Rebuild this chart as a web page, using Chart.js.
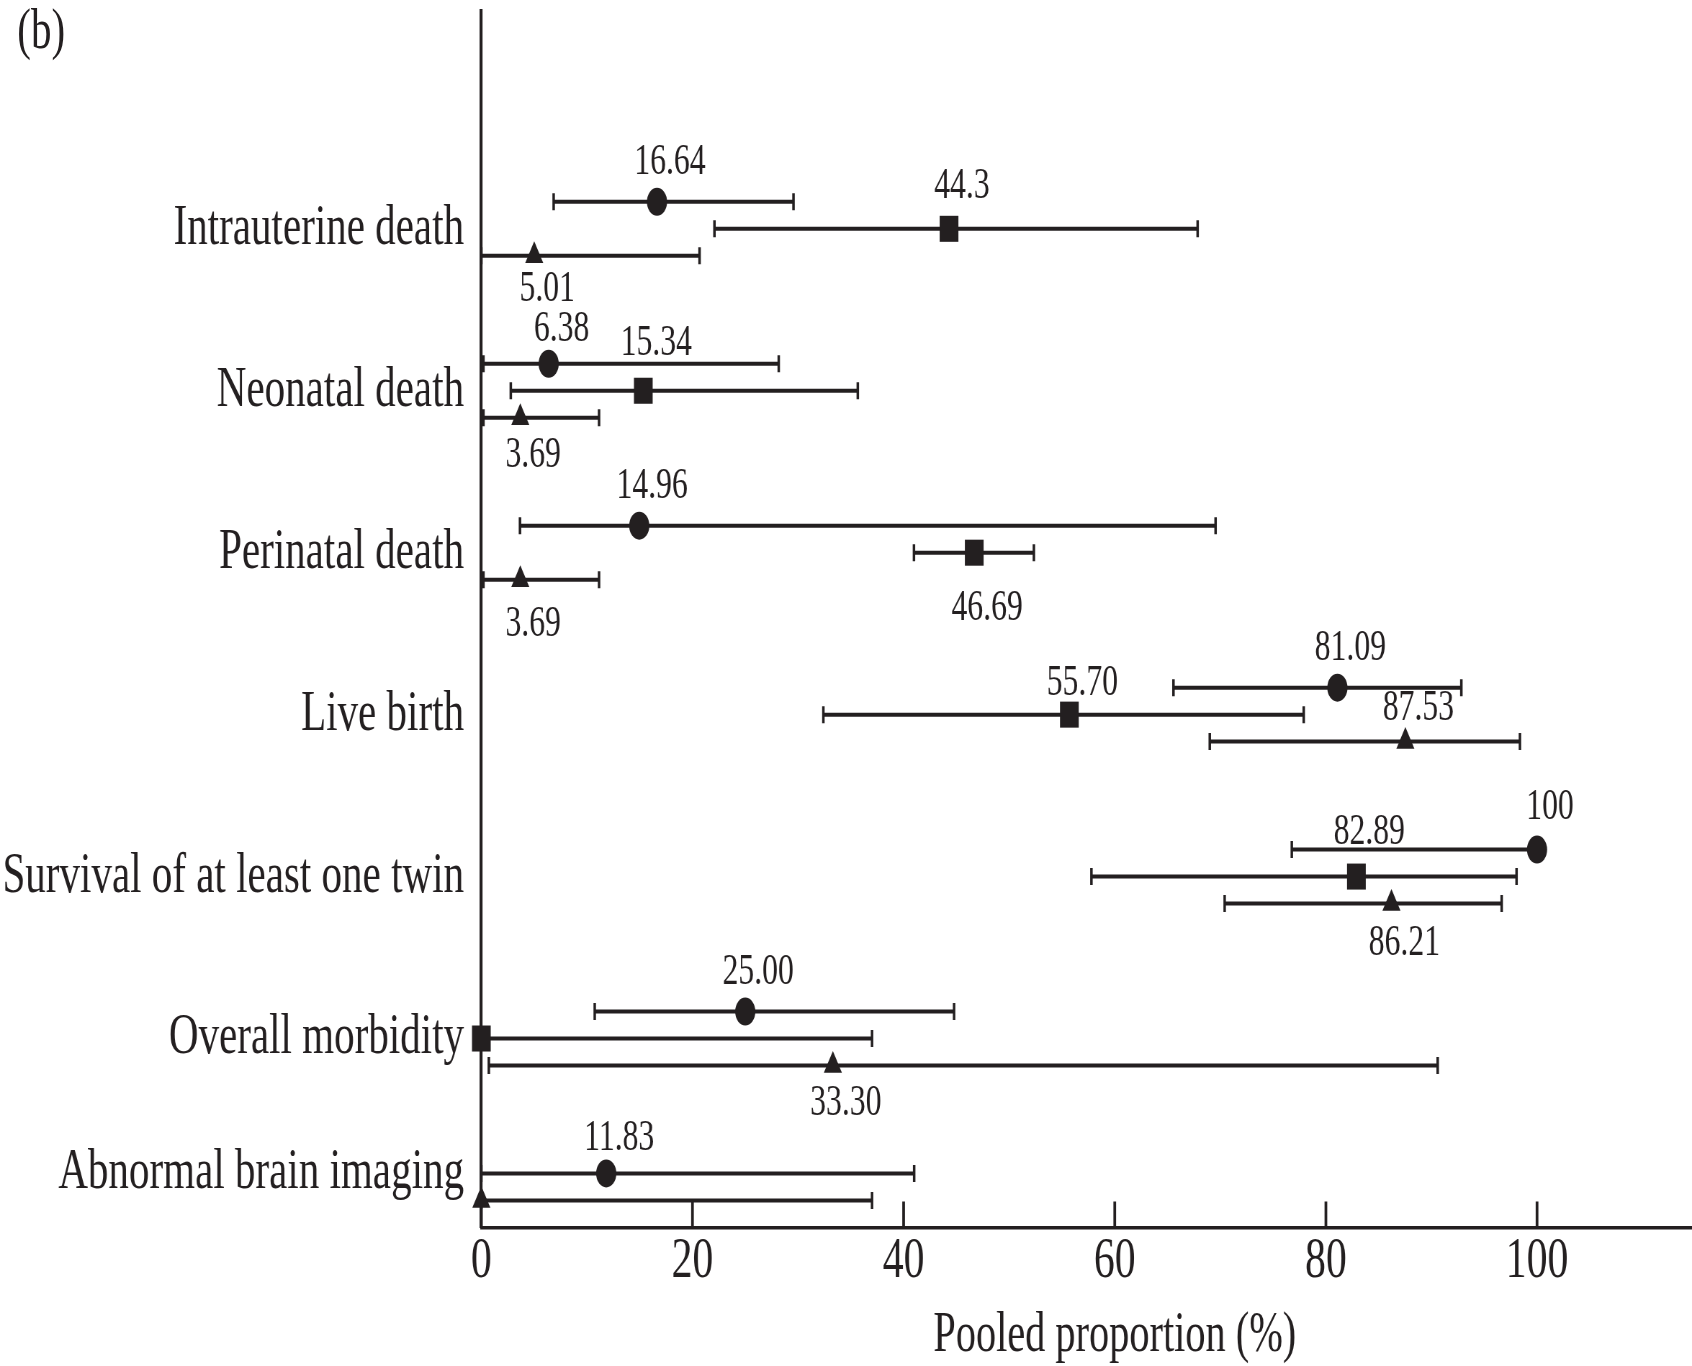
<!DOCTYPE html>
<html>
<head>
<meta charset="utf-8">
<title>Pooled proportion (%)</title>
<script src="https://cdn.jsdelivr.net/npm/chart.js@4.4.1/dist/chart.umd.min.js"></script>
<style>
  html, body { margin: 0; padding: 0; background: #fff; overflow: hidden; }
  #frame { position: relative; width: 1692px; height: 1366px; overflow: hidden; background: #fff; }
  /* the figure is set in a condensed face: lay it out wide, then squeeze horizontally */
  #sheet { position: absolute; left: 0; top: 0; width: 2428px; height: 1366px;
           transform: scaleX(0.72); transform-origin: 0 0; }
  #chart { position: absolute; left: 0; top: 0; }
  #panel { position: absolute; left: 24px; top: 0px; font: 57px "Liberation Serif", serif;
           line-height: 1; color: #231f20; z-index: 1; }
</style>
</head>
<body>
<div id="frame">
  <div id="sheet">
    <canvas id="chart" width="2428" height="1366"></canvas>
    <div id="panel">(b)</div>
  </div>
</div>
<script>
const CATEGORIES = [
  'Intrauterine death',
  'Neonatal death',
  'Perinatal death',
  'Live birth',
  'Survival of at least one twin',
  'Overall morbidity',
  'Abnormal brain imaging'
];

// pooled proportions (%) as printed, with lower / upper 95% CI limits
const CIRCLE_EST = ['16.64', '6.38', '14.96', '81.09', '100', '25.00', '11.83'];
const CIRCLE_LO  = [6.85, 0.2, 3.66, 65.56, 76.77, 10.74, 0];
const CIRCLE_HI  = [29.57, 28.17, 69.55, 92.83, 100, 44.78, 41.0];

const SQUARE_EST = ['44.3', '15.34', '46.69', '55.70', '82.89', '0', null];
const SQUARE_LO  = [22.08, 2.79, 40.98, 32.4, 57.79, 0, null];
const SQUARE_HI  = [67.85, 35.66, 52.34, 77.9, 98.06, 37.01, null];

const TRIANGLE_EST = ['5.01', '3.69', '3.69', '87.53', '86.21', '33.30', '0'];
const TRIANGLE_LO  = [0, 0.2, 0.2, 69.0, 70.41, 0.71, 0];
const TRIANGLE_HI  = [20.67, 11.15, 11.15, 98.38, 96.65, 90.59, 37.01];

const X_TICKS = [0, 20, 40, 60, 80, 100];

// ---- styling / layout ----
const INK = '#231f20';
const SERIF = '"Liberation Serif", "Times New Roman", serif';
const ROW_STEP = 1 / 6;

// vertical placement of each printed value, in px from its row (null: not printed)
const LABEL_DY = {
  circle:   [-39, -34, -39, -39, -42, -39, -35],
  square:   [-42, -47,  56, -31, -44, null, null],
  triangle: [ 34,  38,  45, -33,  40,  38, null]
};
const LABEL_DX = 18;

const SERIES = [
  { key: 'circle',   style: 'circle',   radius: 14,   slot: -1, est: CIRCLE_EST,   lo: CIRCLE_LO,   hi: CIRCLE_HI },
  { key: 'square',   style: 'rect',     radius: 18.4, slot:  0, est: SQUARE_EST,   lo: SQUARE_LO,   hi: SQUARE_HI },
  { key: 'triangle', style: 'triangle', radius: 14.5, slot:  1, est: TRIANGLE_EST, lo: TRIANGLE_LO, hi: TRIANGLE_HI }
];

const hasSquare = g => SQUARE_EST[g] !== null;

// rows inside a group: circle above, square in the middle, triangle below;
// when a group has no square the triangle moves up into the middle slot
function rowY(slot, g) {
  if (slot === 1 && !hasSquare(g)) slot = 0;
  return g + slot * ROW_STEP;
}
// category names sit on the middle row (the circle row when there is no square)
const labelRow = g => hasSquare(g) ? g : g - ROW_STEP;

const datasets = SERIES.map(s => ({
  label: s.key,
  key: s.key,
  data: s.est
    .map((v, g) => v === null ? null : { x: Number(v), y: rowY(s.slot, g), lo: s.lo[g], hi: s.hi[g], text: v, g })
    .filter(p => p !== null),
  pointStyle: s.style,
  pointRadius: s.radius,
  pointHoverRadius: s.radius,
  backgroundColor: INK,
  borderColor: INK,
  borderWidth: 0,
  showLine: false,
  clip: false
}));

const errorBars = {
  id: 'errorBars',
  beforeDatasetsDraw(chart) {
    const { ctx, scales: { x, y }, chartArea } = chart;
    ctx.save();
    ctx.strokeStyle = INK;
    // inward tick marks on the x axis
    ctx.lineWidth = 3.75;
    ctx.beginPath();
    x.ticks.forEach(t => {
      const px = x.getPixelForValue(t.value);
      ctx.moveTo(px, chartArea.bottom);
      ctx.lineTo(px, chartArea.bottom - 26);
    });
    ctx.stroke();
    // confidence intervals
    chart.data.datasets.forEach(ds => ds.data.forEach(p => {
      const x0 = x.getPixelForValue(p.lo);
      const x1 = x.getPixelForValue(p.hi);
      const py = y.getPixelForValue(p.y);
      ctx.lineWidth = 4;
      ctx.beginPath();
      ctx.moveTo(x0, py);
      ctx.lineTo(x1, py);
      ctx.stroke();
      ctx.lineWidth = 3.5;
      ctx.beginPath();
      [x0, x1].forEach(px => { ctx.moveTo(px, py - 8.5); ctx.lineTo(px, py + 8.5); });
      ctx.stroke();
    }));
    ctx.restore();
  }
};

const valueLabels = {
  id: 'valueLabels',
  afterDatasetsDraw(chart) {
    const { ctx, scales: { x, y } } = chart;
    ctx.save();
    ctx.font = '44px ' + SERIF;
    ctx.fillStyle = INK;
    ctx.textAlign = 'center';
    ctx.textBaseline = 'middle';
    chart.data.datasets.forEach(ds => ds.data.forEach(p => {
      const dy = LABEL_DY[ds.key][p.g];
      if (dy === null || dy === undefined) return;
      ctx.fillText(p.text, x.getPixelForValue(p.x) + LABEL_DX, y.getPixelForValue(p.y) + dy);
    }));
    ctx.restore();
  }
};

// the axes run edge to edge: no extra room around the end tick labels
const noEdgePadding = s => {
  s.paddingTop = 0; s.paddingBottom = 0; s.paddingLeft = 0; s.paddingRight = 0;
};

new Chart(document.getElementById('chart'), {
  type: 'scatter',
  data: { datasets },
  plugins: [errorBars, valueLabels],
  options: {
    responsive: false,
    devicePixelRatio: 1,
    animation: false,
    events: [],
    layout: { autoPadding: false, padding: { top: 11, left: 0, right: 0, bottom: 0 } },
    plugins: { legend: { display: false }, tooltip: { enabled: false } },
    scales: {
      x: {
        type: 'linear',
        position: 'bottom',
        min: 0,
        max: 120,
        afterBuildTicks: s => { s.ticks = X_TICKS.map(v => ({ value: v })); },
        afterFit: s => { s.height = 138.5; noEdgePadding(s); },
        grid: { display: false, drawTicks: false },
        border: { display: true, color: INK, width: 3.5 },
        ticks: {
          color: INK,
          font: { family: SERIF, size: 58, lineHeight: 1 },
          padding: 5,
          maxRotation: 0,
          autoSkip: false
        },
        title: {
          display: true,
          text: 'Pooled proportion (%)',
          color: INK,
          font: { family: SERIF, size: 56, lineHeight: 1 },
          padding: { top: 0, bottom: 2 }
        }
      },
      y: {
        type: 'linear',
        position: 'left',
        reverse: true,
        min: -1.345,
        max: 6.167,
        afterBuildTicks: s => { s.ticks = CATEGORIES.map((_, g) => ({ value: labelRow(g) })); },
        afterFit: s => { s.width = 668.5; noEdgePadding(s); },
        grid: { display: false, drawTicks: false },
        border: { display: true, color: INK, width: 4.2 },
        ticks: {
          color: INK,
          font: { family: SERIF, size: 57 },
          padding: 24,
          autoSkip: false,
          callback: (v, i) => CATEGORIES[i]
        }
      }
    }
  }
});
</script>
</body>
</html>
